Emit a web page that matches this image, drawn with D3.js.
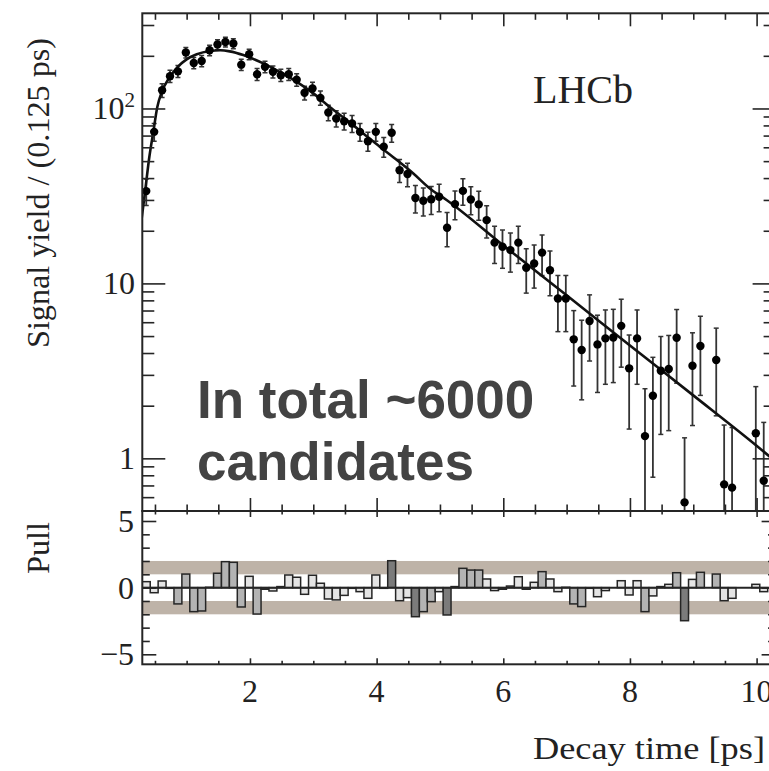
<!DOCTYPE html>
<html>
<head>
<meta charset="utf-8">
<script src="https://cdn.jsdelivr.net/npm/d3@7"></script>
<style>
  html, body { margin: 0; padding: 0; background: #fff; }
  svg { display: block; }
  text { font-family: "Liberation Serif", "DejaVu Serif", serif; fill: #222; }
</style>
</head>
<body>
<svg id="chart" width="769" height="771"></svg>
<script>
// ---------------- data ----------------
const binCenters = [
  0.3625, 0.4875, 0.6125, 0.7375, 0.8625, 0.9875, 1.1125, 1.2375,
  1.3625, 1.4875, 1.6125, 1.7375, 1.8625, 1.9875, 2.1125, 2.2375,
  2.3625, 2.4875, 2.6125, 2.7375, 2.8625, 2.9875, 3.1125, 3.2375,
  3.3625, 3.4875, 3.6125, 3.7375, 3.8625, 3.9875, 4.1125, 4.2375,
  4.3625, 4.4875, 4.6125, 4.7375, 4.8625, 4.9875, 5.1125, 5.2375,
  5.3625, 5.4875, 5.6125, 5.7375, 5.8625, 5.9875, 6.1125, 6.2375,
  6.3625, 6.4875, 6.6125, 6.7375, 6.8625, 6.9875, 7.1125, 7.2375,
  7.3625, 7.4875, 7.6125, 7.7375, 7.8625, 7.9875, 8.1125, 8.2375,
  8.3625, 8.4875, 8.6125, 8.7375, 8.8625, 8.9875, 9.1125, 9.2375,
  9.3625, 9.4875, 9.6125, 9.7375, 9.8625, 9.9875, 10.1125, 10.2375
];
const binHalfWidth = 0.0625;

// signal yield per bin (null = no entry shown)
const yields = [
  33.7, 73.5, 127, 153, 163, 209, 182, 187,
  215, 232, 240, 235, 178, 204, 157, 173,
  162, 155, 157, 146, 123, 130, 115, 94.8,
  87.7, 84.6, 82, 73.5, 65, 73.5, 60.4, 72.6,
  44.4, 42.2, 30.8, 29.7, 30.3, 31.3, 20.8, 28.4,
  33.8, 30.2, 28.3, 23.0, 17.1, 16.2, 15.5, 17.1,
  12.3, 13.0, 15.0, 11.9, 8.2, 8.2, 4.79, 4.16,
  6.1, 4.48, 4.85, 4.91, 5.72, 3.27, 4.85, 1.34,
  2.28, 3.17, 3.24, 4.89, 0.56, 3.38, 4.39, null,
  3.65, 0.71, 0.68, null, null, 1.39, 0.745, null
];
const yieldErrors = [
  5.8, 8.6, 11.3, 12.4, 12.8, 14.5, 13.5, 13.7,
  14.7, 15.2, 15.5, 15.3, 13.3, 14.3, 12.5, 13.2,
  12.7, 12.4, 12.5, 12.1, 11.1, 11.4, 10.7, 9.7,
  9.4, 9.2, 9.1, 8.6, 8.1, 8.6, 7.8, 8.5,
  6.7, 6.5, 5.5, 5.4, 5.5, 5.6, 4.6, 5.3,
  5.8, 5.5, 5.3, 4.8, 4.1, 4.0, 3.9, 4.1,
  3.5, 3.6, 3.9, 3.4, 2.9, 2.9, 2.2, 2.0,
  2.5, 2.1, 2.2, 2.2, 2.4, 1.8, 2.2, 1.16,
  1.5, 1.8, 1.8, 2.2, 0.75, 1.84, 2.1, null,
  1.9, 0.84, 0.82, null, null, 1.18, 0.86, null
];

// fitted decay-time model
const fitTime  = [0.29, 0.343, 0.411, 0.474, 0.537, 0.606, 0.727, 0.859, 1.0, 1.16, 1.37, 1.53, 1.68, 1.895,
                  2.21, 2.47, 2.74, 3.0, 3.26, 3.53, 3.79, 4.05, 4.32, 4.58, 4.84, 5.11, 6.0, 7.0, 8.0, 9.0, 10.0, 10.3];
const fitYield = [23.5, 33.3, 52.8, 73.5, 102, 124, 150, 173, 191, 204, 213, 215, 212, 202,
                  181, 162, 142, 122, 102, 85.8, 72, 60.4, 50.7, 42.5, 34.9, 29.9, 16.5, 8.55, 4.42, 2.29, 1.18, 0.96];

// pulls per bin
const pulls = [
  0.45, -0.38, 0.5, -0.05, -1.22, 1.02, -1.8, -1.75,
  0.03, 1.08, 1.95, 1.9, -1.45, 0.85, -1.98, -0.12,
  -0.25, 0.08, 0.95, 0.78, -0.5, 0.93, 0.33, -0.85,
  -0.92, -0.58, -0.05, -0.3, -0.8, 0.95, -0.05, 2.02,
  -0.98, -0.75, -2.18, -1.8, -1.05, -0.3, -2.05, 0.08,
  1.45, 1.32, 1.32, 0.65, -0.22, -0.12, 0.12, 0.82,
  -0.12, 0.4, 1.2, 0.65, -0.3, 0.03, -1.22, -1.42,
  -0.05, -0.68, -0.22, 0, 0.52, -0.55, 0.52, -1.8,
  -0.62, 0.08, 0.25, 1.12, -2.48, 0.62, 1.15, 0,
  1.02, -0.98, -0.8, 0, 0, 0.25, -0.3, 0
];
const pullBands = [[1, 2], [-2, -1]];

const xMajorTicks = [2, 4, 6, 8, 10];
const xMinorTicks = [0.5, 1, 1.5, 2.5, 3, 3.5, 4.5, 5, 5.5, 6.5, 7, 7.5, 8.5, 9, 9.5, 10.5];
const yMajorTicks = [1, 10, 100];
const yTickLabels = [["1", ""], ["10", ""], ["10", "2"]];
const yMinorTicks = [0.6, 0.7, 0.8, 0.9, 2, 3, 4, 5, 6, 7, 8, 9, 20, 30, 40, 50, 60, 70, 80, 90, 200, 300];
const pullMajorTicks = [-5, 0, 5];
const pullTickLabels = ["\u22125", "0", "5"];
const pullMinorTicks = [-4, -3, -2, -1, 1, 2, 3, 4];

// ---------------- layout ----------------
const svg = d3.select("#chart");
const L = 142.3, R = 775.6;
const T1 = 13.3, B1 = 511, B2 = 664.3;
const ink = "#252525";

const x = d3.scaleLinear().domain([0.3, 10.3]).range([L, R]);
const y = d3.scaleLog().domain([0.5, 350]).range([B1, T1]);
const yp = d3.scaleLinear().domain([-5.75, 5.75]).range([B2, B1]);

svg.append("defs").append("clipPath").attr("id", "clipTop")
  .append("rect").attr("x", L).attr("y", T1).attr("width", R - L).attr("height", B1 - T1);
svg.select("defs").append("clipPath").attr("id", "clipPull")
  .append("rect").attr("x", L).attr("y", B1).attr("width", R - L).attr("height", B2 - B1);

// ---------------- pull panel ----------------
const gp = svg.append("g").attr("clip-path", "url(#clipPull)");
gp.selectAll("rect.band").data(pullBands).join("rect")
  .attr("class", "band")
  .attr("x", L).attr("width", R - L)
  .attr("y", d => yp(d[1])).attr("height", d => yp(d[0]) - yp(d[1]))
  .attr("fill", "#beb3a8");

function pullFill(p) {
  const a = Math.abs(p);
  if (a >= 2) return "#7b7b7b";
  if (a >= 1) return "#b3b3b3";
  return "#e4e4e4";
}
gp.selectAll("rect.pull").data(binCenters.map((c, i) => ({c, p: pulls[i]})).filter(d => d.p !== 0)).join("rect")
  .attr("class", "pull")
  .attr("x", d => x(d.c - binHalfWidth)).attr("width", d => x(d.c + binHalfWidth) - x(d.c - binHalfWidth))
  .attr("y", d => yp(Math.max(d.p, 0))).attr("height", d => Math.abs(yp(d.p) - yp(0)))
  .attr("fill", d => pullFill(d.p))
  .attr("stroke", ink).attr("stroke-width", 1.5);

gp.append("line")
  .attr("x1", L).attr("x2", R).attr("y1", yp(0)).attr("y2", yp(0))
  .attr("stroke", ink).attr("stroke-width", 2);

// ---------------- upper panel ----------------
const gt = svg.append("g").attr("clip-path", "url(#clipTop)");
const pts = binCenters.map((c, i) => ({c, v: yields[i], e: yieldErrors[i]})).filter(d => d.v !== null);

gt.selectAll("line.err").data(pts).join("line")
  .attr("class", "err")
  .attr("x1", d => x(d.c)).attr("x2", d => x(d.c))
  .attr("y1", d => y(d.v + d.e))
  .attr("y2", d => (d.v - d.e) > 0.5 ? y(d.v - d.e) : B1 + 2)
  .attr("stroke", "#333").attr("stroke-width", 1.8);
gt.selectAll("line.capHi").data(pts).join("line")
  .attr("class", "capHi")
  .attr("x1", d => x(d.c) - 2.5).attr("x2", d => x(d.c) + 2.5)
  .attr("y1", d => y(d.v + d.e)).attr("y2", d => y(d.v + d.e))
  .attr("stroke", "#333").attr("stroke-width", 1.5);
gt.selectAll("line.capLo").data(pts.filter(d => d.v - d.e > 0.5)).join("line")
  .attr("class", "capLo")
  .attr("x1", d => x(d.c) - 2.5).attr("x2", d => x(d.c) + 2.5)
  .attr("y1", d => y(d.v - d.e)).attr("y2", d => y(d.v - d.e))
  .attr("stroke", "#333").attr("stroke-width", 1.5);

const fitLine = d3.line()
  .x((d, i) => x(fitTime[i]))
  .y(d => y(d))
  .curve(d3.curveMonotoneX);
gt.append("path").datum(fitYield)
  .attr("d", fitLine)
  .attr("fill", "none").attr("stroke", "#111").attr("stroke-width", 2.6);

gt.selectAll("circle.pt").data(pts).join("circle")
  .attr("class", "pt")
  .attr("cx", d => x(d.c)).attr("cy", d => y(d.v)).attr("r", 4.2)
  .attr("fill", "#000");

// ---------------- axes / frames ----------------
function tickAxis(axisFn, scale, values, size, transform) {
  const g = svg.append("g").attr("transform", transform)
    .call(axisFn(scale).tickValues(values).tickSize(size).tickFormat(""));
  g.select(".domain").remove();
  g.selectAll(".tick line").attr("stroke", ink).attr("stroke-width", 1.6);
  return g;
}
// upper x ticks
tickAxis(d3.axisBottom, x, xMajorTicks, -13, `translate(0,${B1})`);
tickAxis(d3.axisBottom, x, xMinorTicks, -6.5, `translate(0,${B1})`);
tickAxis(d3.axisTop, x, xMajorTicks, -13, `translate(0,${T1})`);
tickAxis(d3.axisTop, x, xMinorTicks, -6.5, `translate(0,${T1})`);
// upper y ticks
tickAxis(d3.axisLeft, y, yMajorTicks, -23, `translate(${L},0)`);
tickAxis(d3.axisLeft, y, yMinorTicks, -12, `translate(${L},0)`);
tickAxis(d3.axisRight, y, yMajorTicks, -23, `translate(${R},0)`);
tickAxis(d3.axisRight, y, yMinorTicks, -12, `translate(${R},0)`);
// pull x ticks
tickAxis(d3.axisTop, x, xMajorTicks, -6, `translate(0,${B1})`);
tickAxis(d3.axisTop, x, xMinorTicks, -3.5, `translate(0,${B1})`);
tickAxis(d3.axisBottom, x, xMajorTicks, -6, `translate(0,${B2})`);
tickAxis(d3.axisBottom, x, xMinorTicks, -3.5, `translate(0,${B2})`);
// pull y ticks
tickAxis(d3.axisLeft, yp, pullMajorTicks, -14, `translate(${L},0)`);
tickAxis(d3.axisLeft, yp, pullMinorTicks, -7.5, `translate(${L},0)`);
tickAxis(d3.axisRight, yp, pullMajorTicks, -14, `translate(${R},0)`);
tickAxis(d3.axisRight, yp, pullMinorTicks, -7.5, `translate(${R},0)`);

// frames
svg.append("rect").attr("x", L).attr("y", T1).attr("width", R - L).attr("height", B1 - T1)
  .attr("fill", "none").attr("stroke", ink).attr("stroke-width", 2);
svg.append("rect").attr("x", L).attr("y", B1).attr("width", R - L).attr("height", B2 - B1)
  .attr("fill", "none").attr("stroke", ink).attr("stroke-width", 2);

// tick labels
const fs = 32;
yMajorTicks.forEach((v, i) => {
  const t = svg.append("text").attr("x", 135).attr("y", y(v) + 11)
    .attr("text-anchor", "end").attr("font-size", fs);
  t.append("tspan").text(yTickLabels[i][0]);
  if (yTickLabels[i][1]) {
    t.append("tspan").attr("font-size", fs * 0.66).attr("dy", -12).text(yTickLabels[i][1]);
  }
});
pullMajorTicks.forEach((v, i) => {
  svg.append("text").attr("x", 134).attr("y", yp(v) + 11)
    .attr("text-anchor", "end").attr("font-size", fs).text(pullTickLabels[i]);
});
xMajorTicks.forEach(v => {
  svg.append("text").attr("x", x(v)).attr("y", 702)
    .attr("text-anchor", "middle").attr("font-size", fs).text(String(v));
});

// axis titles
svg.append("text")
  .attr("transform", "translate(49,193) rotate(-90)")
  .attr("text-anchor", "middle").attr("font-size", 31)
  .attr("textLength", 310).attr("lengthAdjust", "spacingAndGlyphs")
  .text("Signal yield / (0.125 ps)");
svg.append("text")
  .attr("transform", "translate(49,548) rotate(-90)")
  .attr("text-anchor", "middle").attr("font-size", 31)
  .attr("textLength", 52).attr("lengthAdjust", "spacingAndGlyphs")
  .text("Pull");
svg.append("text")
  .attr("x", 765).attr("y", 759)
  .attr("text-anchor", "end").attr("font-size", 32)
  .attr("textLength", 232).attr("lengthAdjust", "spacingAndGlyphs")
  .text("Decay time [ps]");

// LHCb label
svg.append("text").attr("x", 533).attr("y", 103).attr("font-size", 40)
  .attr("textLength", 100).attr("lengthAdjust", "spacingAndGlyphs")
  .text("LHCb");

// annotation
const ann = svg.append("text")
  .attr("font-weight", "bold").attr("font-size", 53)
  .style("font-family", "'Liberation Sans', Arial, sans-serif")
  .style("fill", "#434343");
ann.append("tspan").attr("x", 197).attr("y", 418).text("In total ~6000");
ann.append("tspan").attr("x", 197).attr("y", 480).text("candidates");
</script>
</body>
</html>
